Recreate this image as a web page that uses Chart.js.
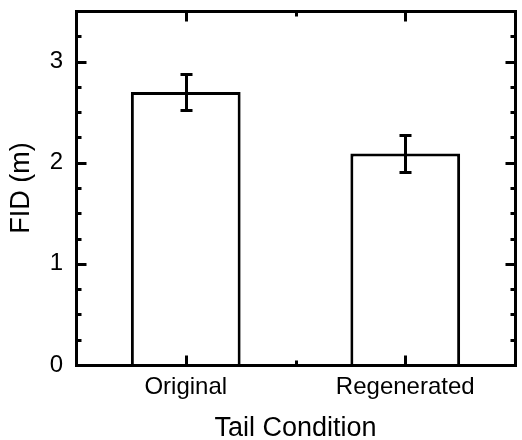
<!DOCTYPE html>
<html>
<head>
<meta charset="utf-8">
<script src="https://cdn.jsdelivr.net/npm/chart.js@4"></script>
<style>
  body { margin: 0; background: #fff; }
  #wrap { width: 522px; height: 440px; }
</style>
</head>
<body>
<div id="wrap"><canvas id="fidChart" width="522" height="440"></canvas></div>
<script>
// data
const categories = ['Original', 'Regenerated'];
const fidMeans = [2.70, 2.09];
const fidErrors = [0.18, 0.18];
const yTickValues = [0, 1, 2, 3];
const yMinorStep = 0.25;

const FONT = '"Liberation Sans", Arial, sans-serif';
const LW = 3;

// box frame, inward ticks and error bars
const framePlugin = {
    id: 'frame',
    afterDatasetsDraw(chart) {
        const ctx = chart.ctx;
        const area = chart.chartArea;
        const x = chart.scales.x;
        const y = chart.scales.y;
        const snap = v => Math.round(v) + 0.5;

        ctx.save();
        ctx.strokeStyle = '#000';
        ctx.lineWidth = LW;
        ctx.lineCap = 'butt';

        // error bars
        const meta = chart.getDatasetMeta(0);
        meta.data.forEach(function (bar, i) {
            const cx = snap(bar.x);
            const hi = snap(y.getPixelForValue(fidMeans[i] + fidErrors[i]));
            const lo = snap(y.getPixelForValue(fidMeans[i] - fidErrors[i]));
            ctx.beginPath();
            ctx.moveTo(cx, hi);
            ctx.lineTo(cx, lo);
            ctx.moveTo(cx - 6, hi);
            ctx.lineTo(cx + 6, hi);
            ctx.moveTo(cx - 6, lo);
            ctx.lineTo(cx + 6, lo);
            ctx.stroke();
        });

        // frame
        const l = snap(area.left), r = snap(area.right), t = snap(area.top), b = snap(area.bottom);
        ctx.strokeRect(l, t, r - l, b - t);

        // y ticks, left and right, pointing in
        ctx.beginPath();
        for (let v = y.min; v <= y.max + 1e-9; v += yMinorStep) {
            const py = snap(y.getPixelForValue(v));
            const major = yTickValues.some(tv => Math.abs(tv - v) < 1e-9);
            const len = major ? 10 : 5;
            ctx.moveTo(l, py);
            ctx.lineTo(l + len, py);
            ctx.moveTo(r, py);
            ctx.lineTo(r - len, py);
        }
        // x ticks at category centres (major) and between them (minor)
        for (let i = 0; i < categories.length; i++) {
            const px = snap(x.getPixelForValue(i));
            ctx.moveTo(px, b);
            ctx.lineTo(px, b - 10);
            ctx.moveTo(px, t);
            ctx.lineTo(px, t + 10);
            if (i < categories.length - 1) {
                const mx = snap(x.getPixelForValue(i + 0.5));
                ctx.moveTo(mx, b);
                ctx.lineTo(mx, b - 5);
                ctx.moveTo(mx, t);
                ctx.lineTo(mx, t + 5);
            }
        }
        ctx.stroke();
        ctx.restore();
    }
};

new Chart(document.getElementById('fidChart'), {
    type: 'bar',
    data: {
        labels: categories,
        datasets: [{
            data: fidMeans,
            backgroundColor: '#fff',
            borderColor: '#000',
            borderWidth: LW,
            categoryPercentage: 1,
            barPercentage: 0.5
        }]
    },
    options: {
        responsive: false,
        animation: false,
        events: [],
        layout: { padding: { left: 0, right: 7, top: 11, bottom: 0 } },
        plugins: {
            legend: { display: false },
            tooltip: { enabled: false }
        },
        scales: {
            x: {
                type: 'category',
                offset: true,
                grid: { display: false, drawTicks: false },
                border: { display: false },
                ticks: {
                    color: '#000',
                    padding: 8,
                    maxRotation: 0,
                    font: { family: FONT, size: 24 }
                },
                title: {
                    display: true,
                    text: 'Tail Condition',
                    color: '#000',
                    font: { family: FONT, size: 27, lineHeight: 1 },
                    padding: { top: 0, bottom: -2 }
                },
                afterFit(scale) {
                    scale.height = 75;
                    scale.paddingLeft = 0;
                    scale.paddingRight = 0;
                }
            },
            y: {
                min: 0,
                max: 3.5,
                grid: { display: false, drawTicks: false },
                border: { display: false },
                afterBuildTicks(scale) {
                    scale.ticks = yTickValues.map(v => ({ value: v }));
                },
                ticks: {
                    color: '#000',
                    padding: 13,
                    font: { family: FONT, size: 24 }
                },
                title: {
                    display: true,
                    text: 'FID (m)',
                    color: '#000',
                    font: { family: FONT, size: 27, lineHeight: 1 },
                    padding: { top: 8, bottom: 0 }
                },
                afterFit(scale) {
                    scale.width = 76;
                    scale.paddingTop = 0;
                    scale.paddingBottom = 0;
                }
            }
        }
    },
    plugins: [framePlugin]
});
</script>
</body>
</html>
